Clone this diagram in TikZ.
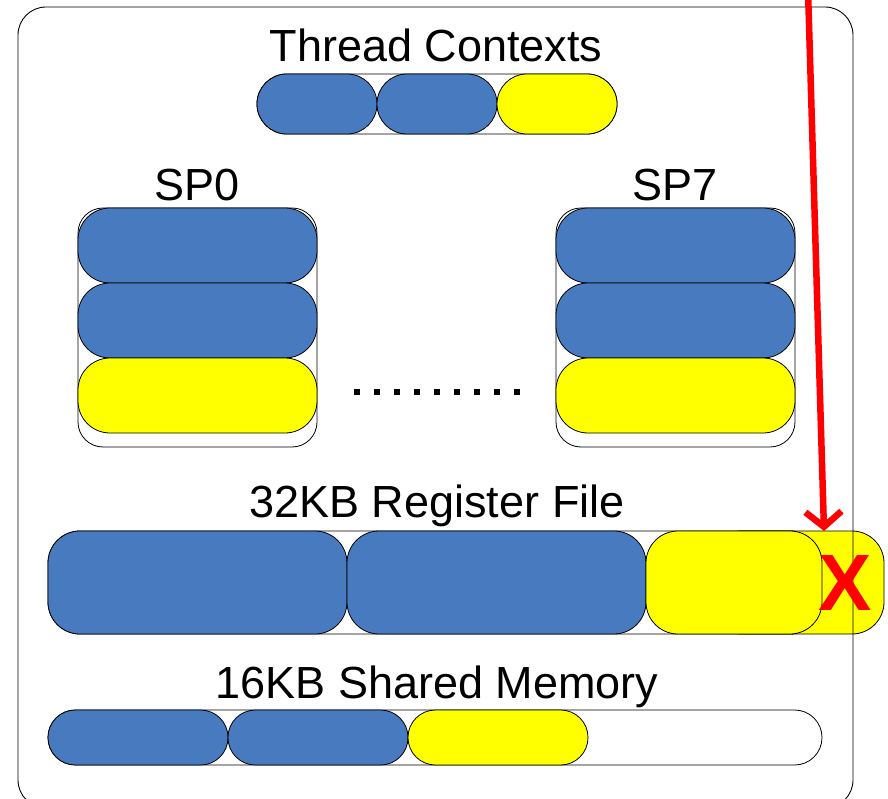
\documentclass[tikz,border=0pt]{standalone}
\usepackage{fontspec}
\setmainfont{Liberation Sans}
\usetikzlibrary{positioning,arrows.meta}
\definecolor{slotblue}{RGB}{72,122,192}
\definecolor{slotyellow}{RGB}{255,255,0}
\definecolor{alarm}{RGB}{255,0,0}

\begin{document}
\begin{tikzpicture}[x=1pt,y=-1pt,node distance=0pt,inner sep=0pt,outer sep=0pt,
		lbl/.style={font=\fontsize{45}{54}\selectfont,anchor=base},
		frame/.style={draw,line width=.8pt,fill=white},
		tcell/.style={draw,line width=.8pt,minimum width=120pt,minimum height=60pt,rounded corners=29.9pt},
		spcell/.style={draw,line width=.8pt,minimum width=239pt,minimum height=75pt,rounded corners=32pt},
		rfcell/.style={draw,line width=.8pt,minimum height=103pt,rounded corners=32pt},
		smcell/.style={draw,line width=.8pt,minimum width=180pt,minimum height=55pt,rounded corners=27.4pt},
		used/.style={fill=slotblue},
		fresh/.style={fill=slotyellow},
		dot/.style={fill,minimum size=6pt}]
	\useasboundingbox (0,0) rectangle (888,799);
			\node[lbl] (tclbl) at (436,62) {Thread Contexts};
			\node[frame,minimum width=360pt,minimum height=60pt,rounded corners=29.9pt] (tcbar) at (437,104) {};
				\node[tcell,used,anchor=west] (tc1) at (tcbar.west) {};
				\node[tcell,used,right=of tc1] (tc2) {};
				\node[tcell,fresh,right=of tc2] (tc3) {};
			\node[lbl] (sp0lbl) at (197,201) {SP0};
			\node[frame,minimum width=239pt,minimum height=239pt,rounded corners=25pt] (sp0) at (197.5,327.5) {};
				\node[spcell,used,anchor=north] (sp0a) at (sp0.north) {};
				\node[spcell,used,below=of sp0a] (sp0b) {};
				\node[spcell,fresh,below=of sp0b] (sp0c) {};
			\node[lbl] (sp7lbl) at (675,201) {SP7};
			\node[frame,minimum width=239pt,minimum height=239pt,rounded corners=25pt] (sp7) at (675.5,327.5) {};
				\node[spcell,used,anchor=north] (sp7a) at (sp7.north) {};
				\node[spcell,used,below=of sp7a] (sp7b) {};
				\node[spcell,fresh,below=of sp7b] (sp7c) {};
			\foreach \i in {0,...,8}
				\node[dot] (d\i) at (357+20*\i,392) {};
			\node[lbl] (rflbl) at (437,517) {32KB Register File};
			\node[frame,minimum width=774pt,minimum height=103pt,rounded corners=32pt] (rf) at (435,582.5) {};
				\node[rfcell,fresh,minimum width=174pt] (rf4) at (797,582.5) {};
				\node[rfcell,used,minimum width=299pt,anchor=west] (rf1) at (rf.west) {};
				\node[rfcell,used,minimum width=299pt,right=of rf1] (rf2) {};
				\node[rfcell,fresh,minimum width=176pt,right=of rf2] (rf3) {};
			\node[lbl] (smlbl) at (437,698) {16KB Shared Memory};
			\node[frame,minimum width=774pt,minimum height=55pt,rounded corners=27.4pt] (smbar) at (435,737.5) {};
				\node[smcell,used,anchor=west] (sm1) at (smbar.west) {};
				\node[smcell,used,right=of sm1] (sm2) {};
				\node[smcell,fresh,right=of sm2] (sm3) {};
			\node[draw,line width=.9pt,minimum width=835pt,minimum height=801pt,rounded corners=28pt] (sm) at (435.5,407.5) {};
			\coordinate (src) at (808,-10);
				\draw[alarm,line width=6.5pt,-{Straight Barb[length=15pt,width=36pt]}] (src) -- ([xshift=2pt]rf3.north east);
			\node[text=alarm,font=\fontsize{80}{80}\selectfont\bfseries] (full) at (845,583) {X};
\end{tikzpicture}
\end{document}
